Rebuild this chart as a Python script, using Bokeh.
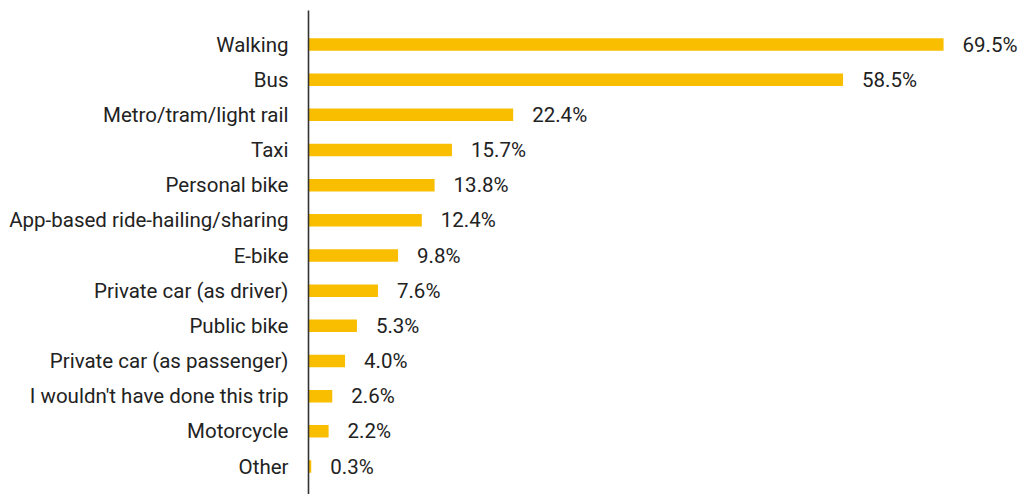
from bokeh.plotting import figure
from bokeh.models import ColumnDataSource, Range1d, FixedTicker, LabelSet
from bokeh.core.properties import value
from bokeh.embed import file_html
from bokeh.resources import INLINE

categories = [
    "Walking", "Bus", "Metro/tram/light rail", "Taxi", "Personal bike",
    "App-based ride-hailing/sharing", "E-bike", "Private car (as driver)",
    "Public bike", "Private car (as passenger)", "I wouldn't have done this trip",
    "Motorcycle", "Other",
]
values = [69.5, 58.5, 22.4, 15.7, 13.8, 12.4, 9.8, 7.6, 5.3, 4.0, 2.6, 2.2, 0.3]

FONT = "Roboto"
FSIZE = "20.5px"
n = len(categories)
ypos = [n - 1 - i for i in range(n)]
src = ColumnDataSource(dict(
    y=ypos, v=values, cat=categories, lab=[f"{v:.1f}%" for v in values],
))

p = figure(width=1018, height=494, output_backend="svg", toolbar_location=None,
           x_range=Range1d(0, 77.7), y_range=Range1d(-0.796, n - 1 + 0.967),
           x_axis_location=None, min_border_top=10, min_border_bottom=0,
           min_border_right=0, min_border_left=308)
p.outline_line_color = None
p.grid.grid_line_color = None
p.background_fill_color = "white"

p.hbar(y="y", left=0, right="v", height=0.355, source=src,
       fill_color="#F9BE00", line_color=None)

labels = LabelSet(x="v", y="y", text="lab", source=src, x_offset=19,
                  text_baseline="middle", text_align="left",
                  text_font=value(FONT), text_font_size=value(FSIZE),
                  text_color="#222222")
p.add_layout(labels)

ax = p.yaxis[0]
ax.ticker = FixedTicker(ticks=ypos)
ax.major_label_overrides = {y: c for y, c in zip(ypos, categories)}
ax.major_tick_line_color = None
ax.minor_tick_line_color = None
ax.major_tick_out = 0
ax.major_tick_in = 0
ax.major_label_standoff = 20
ax.axis_line_color = "#333333"
ax.axis_line_width = 1.6
ax.major_label_text_font = FONT
ax.major_label_text_font_size = FSIZE
ax.major_label_text_color = "#222222"

open("out.html", "w").write(file_html(p, INLINE))
